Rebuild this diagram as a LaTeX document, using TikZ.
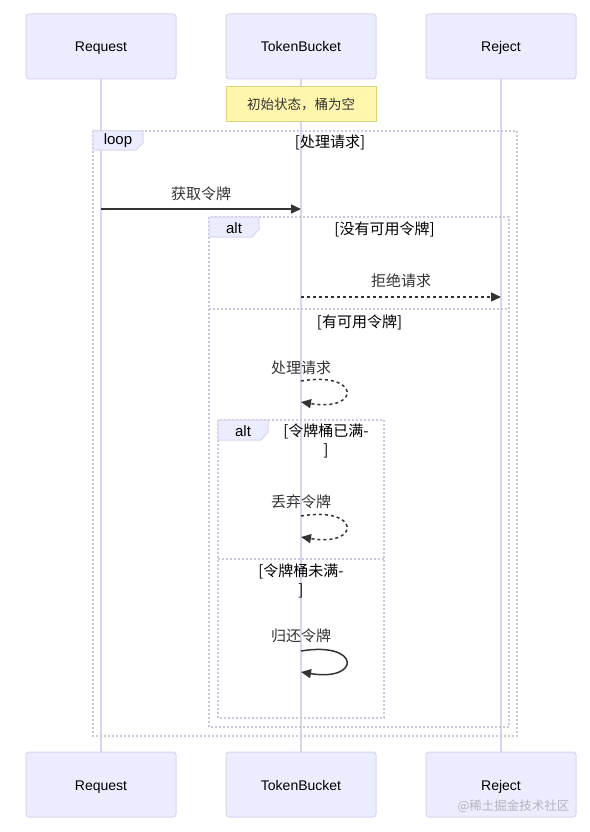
\documentclass[tikz,border=0pt]{standalone}
\usepackage{fontspec}
\setmainfont{Liberation Sans}
\newfontfamily\cjk{Noto Sans CJK SC}
\usetikzlibrary{arrows.meta}
\definecolor{actorfill}{HTML}{ECECFF}
\definecolor{actorline}{HTML}{DAD3F2}
\definecolor{framecol}{HTML}{CBC8DC}
\definecolor{msgcol}{HTML}{333333}
\definecolor{notefill}{HTML}{FFF5AD}
\definecolor{noteline}{HTML}{D9D27E}
\definecolor{markcol}{HTML}{B4B4BE}

\begin{document}
\begin{tikzpicture}[x=1pt, y=-1pt,
    actor/.style={draw=actorline, fill=actorfill, line width=1pt, rounded corners=3pt,
        minimum width=150pt, minimum height=65pt, text height=13pt, text depth=2pt,
        text=black, font=\fontsize{14}{16}\selectfont},
    lifeline/.style={draw=actorline, line width=1.6pt},
    frame/.style={draw=framecol, line width=1.2pt, dash pattern=on 2pt off 2pt},
    tab/.style={draw=actorline, fill=actorfill, line width=1pt},
    tablbl/.style={text=black, font=\fontsize{15}{17}\selectfont},
    cond/.style={text=black, align=center, font=\cjk\fontsize{15}{19}\selectfont},
    msg/.style={text=msgcol, font=\cjk\fontsize{15}{18}\selectfont},
    call/.style={draw=msgcol, line width=1.5pt, -{Triangle[length=10pt,width=9pt]}},
    reply/.style={call, dash pattern=on 3pt off 3pt}]
    \useasboundingbox (0,0) rectangle (589,832);

    % actors, top and bottom
    \node [actor] (reqTop) at (101,46.5) {Request};
    \node [actor] (tbTop) at (301,46.5) {TokenBucket};
    \node [actor] (rejTop) at (501,46.5) {Reject};
    \node [actor] (reqBot) at (101,784.5) {Request};
    \node [actor] (tbBot) at (301,784.5) {TokenBucket};
    \node [actor] (rejBot) at (501,784.5) {Reject};

    \draw [lifeline] (reqTop) -- (reqBot);
    \draw [lifeline] (tbTop) -- (tbBot);
    \draw [lifeline] (rejTop) -- (rejBot);

    % loop frame
    \draw [frame] (93,131) rectangle (517,736);
    \draw [tab] (93,131) -- (143,131) -- (143,143) -- (136,150) -- (93,150) -- cycle;
    \node [tablbl] (loopTag) at (118,141) {loop};
    \node [cond] (loopCond) at (330,142) {[处理请求]};

    % outer alt
    \draw [frame] (209,217) rectangle (509,727);
    \draw [frame] (209,309) -- (509,309);
    \draw [tab] (209,217) -- (259,217) -- (259,229) -- (252,237) -- (209,237) -- cycle;
    \node [tablbl] (altTag) at (234,228) {alt};
    \node [cond] (altCond) at (384.5,229) {[没有可用令牌]};
    \node [cond] (elseCond) at (359.5,322) {[有可用令牌]};

    % inner alt
    \draw [frame] (218,420) rectangle (384,718);
    \draw [frame] (218,559) -- (384,559);
    \draw [tab] (218,420) -- (268,420) -- (268,432) -- (261,440) -- (218,440) -- cycle;
    \node [tablbl] (innerTag) at (243,431) {alt};
    \node [cond] (fullCond) at (326,441) {[令牌桶已满-\\]};
    \node [cond] (notFullCond) at (301,581) {[令牌桶未满-\\]};

    % note
    \node [draw=noteline, fill=notefill, line width=1pt, minimum width=150pt, minimum height=35pt,
        text=msgcol, font=\cjk\fontsize{13.5}{16}\selectfont] (initNote) at (301,104.5) {初始状态，桶为空};

    % messages
    \coordinate (getA) at (101,209);
    \coordinate (getB) at (301,209);
    \node [msg] (getLbl) at (201,194) {获取令牌};
    \draw [call] (getA) -- (getB);

    \coordinate (rejA) at (301,297);
    \coordinate (rejB) at (501,297);
    \node [msg] (rejLbl) at (401,281) {拒绝请求};
    \draw [reply] (rejA) -- (rejB);

    \coordinate (procA) at (301,381);
    \coordinate (procB) at (301,402);
    \node [msg] (procLbl) at (301,368) {处理请求};
    \draw [reply] (procA) .. controls (361,371) and (361,412) .. (procB);

    \coordinate (dropA) at (301,516);
    \coordinate (dropB) at (301,537);
    \node [msg] (dropLbl) at (301,502) {丢弃令牌};
    \draw [reply] (dropA) .. controls (361,506) and (361,547) .. (dropB);

    \coordinate (backA) at (301,651);
    \coordinate (backB) at (301,672);
    \node [msg] (backLbl) at (301,636) {归还令牌};
    \draw [call] (backA) .. controls (361,641) and (361,682) .. (backB);

    \node [text=markcol, font=\cjk\fontsize{12.5}{14}\selectfont] (mark) at (513.5,806) {@稀土掘金技术社区};
\end{tikzpicture}
\end{document}
